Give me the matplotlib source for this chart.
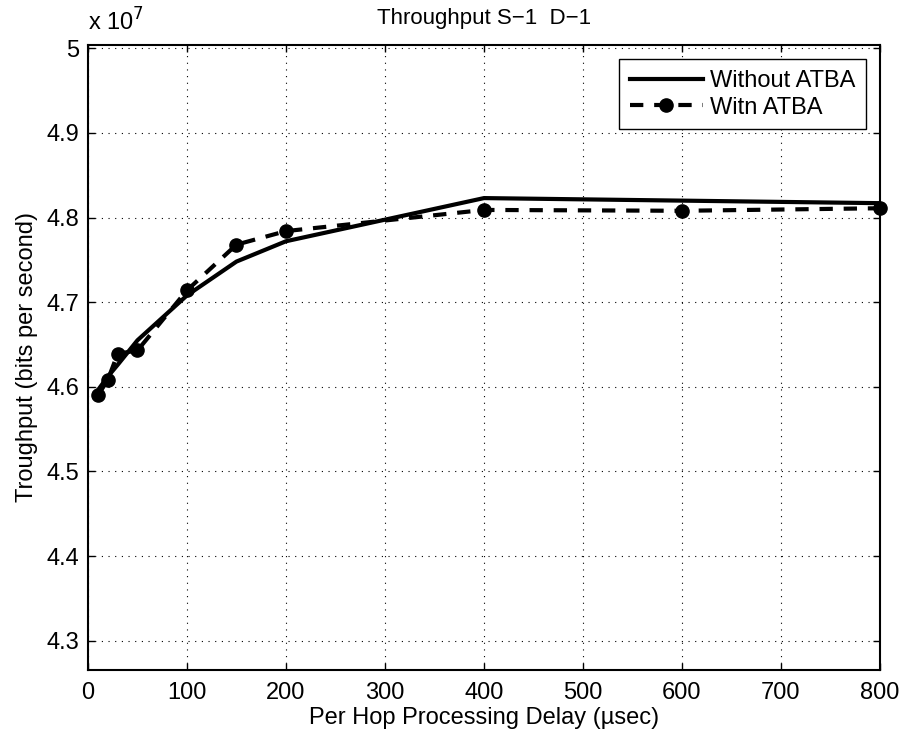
import matplotlib
matplotlib.use('Agg')
import matplotlib.pyplot as plt

plt.rcParams['font.family'] = ['Liberation Sans', 'DejaVu Sans']
plt.rcParams['font.size'] = 17

# datos
delay = [10, 20, 30, 50, 100, 150, 200, 400, 600, 800]
without_atba = [4.596e7, 4.612e7, 4.626e7, 4.655e7, 4.708e7, 4.748e7, 4.772e7, 4.823e7, 4.820e7, 4.817e7]
with_atba = [4.590e7, 4.608e7, 4.639e7, 4.643e7, 4.714e7, 4.768e7, 4.784e7, 4.809e7, 4.808e7, 4.811e7]

x_ticks = [0, 100, 200, 300, 400, 500, 600, 700, 800]
y_ticks = [4.3e7, 4.4e7, 4.5e7, 4.6e7, 4.7e7, 4.8e7, 4.9e7, 5.0e7]
y_labels = ['4.3', '4.4', '4.5', '4.6', '4.7', '4.8', '4.9', '5']

fig = plt.figure(figsize=(9.06, 7.4), dpi=100)
ax = fig.add_axes([0.0971, 0.0946, 0.8742, 0.8446])

ax.plot(delay, without_atba, color='black', lw=3, label='Without ATBA')
ax.plot(delay, with_atba, color='black', lw=3, ls=(0, (3.2, 2.6)), marker='o',
        markersize=9.5, label='Witn ATBA', clip_on=False)

ax.set_xlim(0, 800)
ax.set_ylim(4.2654e7, 5.0039e7)
ax.set_xticks(x_ticks)
ax.set_yticks(y_ticks)
ax.set_yticklabels(y_labels)
ax.tick_params(direction='in', top=True, right=True, length=5, width=1, labelsize=17)
ax.tick_params(axis='x', pad=9)
ax.tick_params(axis='y', pad=6)
for s in ax.spines.values():
    s.set_linewidth(1.5)
ax.grid(True, color='black', ls=(0, (1, 5)), lw=0.8)

ax.text(0, 1.015, r'x 10$^{7}$', transform=ax.transAxes, fontsize=17, va='bottom')
ax.set_title('Throughput S\u22121  D\u22121', fontsize=16, pad=15)
ax.set_xlabel('Per Hop Processing Delay (\u00b5sec)', fontsize=17, labelpad=2)
ax.set_ylabel('Troughput (bits per second)', fontsize=17, labelpad=6)

leg = ax.legend(loc='upper right', fontsize=17, fancybox=False, edgecolor='black',
                framealpha=1, borderaxespad=0.6, handlelength=3.1, borderpad=0.45,
                labelspacing=0.2, handletextpad=0.3)
leg.get_frame().set_linewidth(1)

plt.savefig('out.png', dpi=100)
